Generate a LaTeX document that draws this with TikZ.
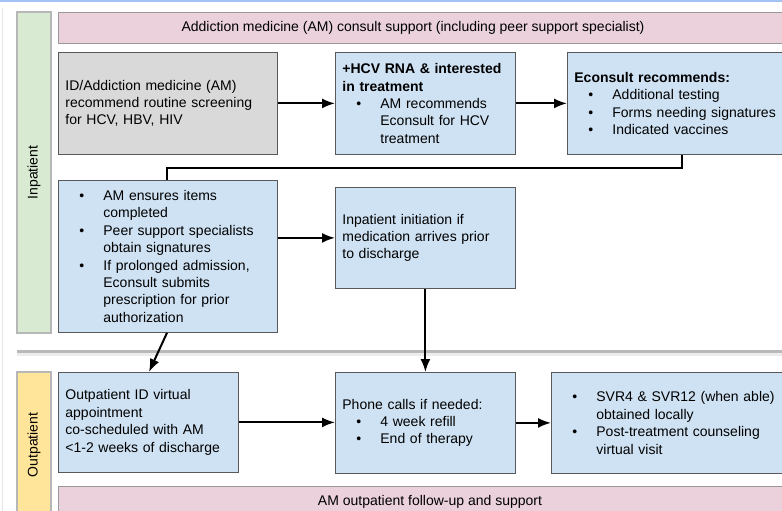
\documentclass[tikz,border=0pt]{standalone}
\usepackage{fontspec}
\setmainfont{Liberation Sans}
\usetikzlibrary{arrows.meta}

\definecolor{boxblue}{HTML}{CFE2F3}
\definecolor{boxgrey}{HTML}{D9D9D9}
\definecolor{bannerpink}{HTML}{EAD1DC}
\definecolor{lanegreen}{HTML}{D9EAD3}
\definecolor{laneyellow}{HTML}{FFE599}
\definecolor{topband}{HTML}{A4C2F4}
\definecolor{edgedark}{HTML}{595959}
\definecolor{edgebanner}{HTML}{999999}
\definecolor{edgelane}{HTML}{B7B7B7}

% bullet lines with a hanging indent
\newcommand{\bitem}[1]{\hspace*{14pt}\makebox[24pt][l]{•}#1}
\newcommand{\bcont}[1]{\hspace*{38pt}#1}

\tikzset{
  txt/.style={font=\fontsize{14}{17.4}\selectfont},
  box/.style={txt, draw=edgedark, line width=0.8pt, fill=boxblue, rectangle,
    anchor=north west, align=left, inner xsep=7pt, inner ysep=0pt},
  banner/.style={draw=edgebanner, line width=0.8pt, fill=bannerpink, rectangle,
    anchor=north west, inner sep=0pt},
  lane/.style={txt, draw=edgelane, line width=1.2pt, rectangle, rotate=90,
    inner sep=0pt},
  flowarrow/.style={draw=black, line width=2pt, -{Latex[length=13pt,width=10pt]}},
  flowlink/.style={draw=black, line width=2pt},
}

\begin{document}
\begin{tikzpicture}[x=1pt,y=-1pt]
\useasboundingbox (0,0) rectangle (782,511);
\clip (0,0) rectangle (782,511);

% page furniture
\fill[topband] (0,0) rectangle (782,2.5);
\draw[gray!20, line width=1pt] (2.5,8) -- (2.5,511);
\draw[gray!15, line width=5pt] (17,353) -- (790,353);
\draw[gray!55, line width=2.5pt] (17,351.5) -- (790,351.5);

% swimlanes
\node[lane, fill=lanegreen, minimum width=321pt, minimum height=34pt]
  (inlane) at (34,172.5) {Inpatient};
\node[lane, fill=laneyellow, minimum width=146pt, minimum height=34pt]
  (outlane) at (34,445) {Outpatient};

% support banners
\node[banner, minimum width=760pt, minimum height=31pt] (topbar) at (58,12) {};
\node[txt] (toptext) at (413,28) {Addiction medicine (AM) consult support (including peer support specialist)};
\node[banner, minimum width=760pt, minimum height=40pt] (botbar) at (58,486) {};
\node[txt] (bottext) at (430,502) {AM outpatient follow-up and support};

% inpatient steps
\node[box, fill=boxgrey, text width=205pt, minimum height=102pt] (screen) at (58,52)
  {ID/Addiction medicine (AM)\\recommend routine screening\\for HCV, HBV, HIV};
\node[box, text width=166pt, minimum height=102pt] (hcv) at (335,52)
  {\textbf{+HCV RNA \& interested}\\\textbf{in treatment}\\\bitem{AM recommends}\\\bcont{Econsult for HCV}\\\bcont{treatment}};
\node[box, text width=230pt, minimum height=102pt] (econ) at (567,52)
  {\textbf{Econsult recommends:}\\\bitem{Additional testing}\\\bitem{Forms needing signatures}\\\bitem{Indicated vaccines}};
\node[box, text width=205pt, minimum height=152pt] (ensure) at (58,180)
  {\bitem{AM ensures items}\\\bcont{completed}\\\bitem{Peer support specialists}\\\bcont{obtain signatures}\\\bitem{If prolonged admission,}\\\bcont{Econsult submits}\\\bcont{prescription for prior}\\\bcont{authorization}};
\node[box, text width=166pt, minimum height=101pt] (init) at (335,187)
  {Inpatient initiation if\\medication arrives prior\\to discharge};

% outpatient steps
\node[box, text width=166pt, minimum height=100pt] (virt) at (58,372)
  {Outpatient ID virtual\\appointment\\co-scheduled with AM\\<1-2 weeks of discharge};
\node[box, text width=166pt, minimum height=101pt] (phone) at (335,372)
  {Phone calls if needed:\\\bitem{4 week refill}\\\bitem{End of therapy}};
\node[box, text width=240pt, minimum height=101pt] (svr) at (551,372)
  {\bitem{SVR4 \& SVR12 (when able)}\\\bcont{obtained locally}\\\bitem{Post-treatment counseling}\\\bcont{virtual visit}};

% connectors
\draw[flowarrow] (screen.east) -- (screen.east -| hcv.west);
\draw[flowarrow] (hcv.east) -- (hcv.east -| econ.west);
\draw[flowlink] ([xshift=115pt]econ.south west) -- ++(0,13) -| ([xshift=109pt]ensure.north west);
\draw[flowarrow] (ensure.east |- init.west) -- (init.west);
\draw[flowarrow] (init.south) -- (init.south |- phone.north);
\draw[flowarrow] ([xshift=109pt]ensure.south west) -- ([xshift=91pt]virt.north west);
\draw[flowarrow] (virt.east) -- (virt.east -| phone.west);
\draw[flowarrow] (phone.east) -- (phone.east -| svr.west);
\end{tikzpicture}
\end{document}
